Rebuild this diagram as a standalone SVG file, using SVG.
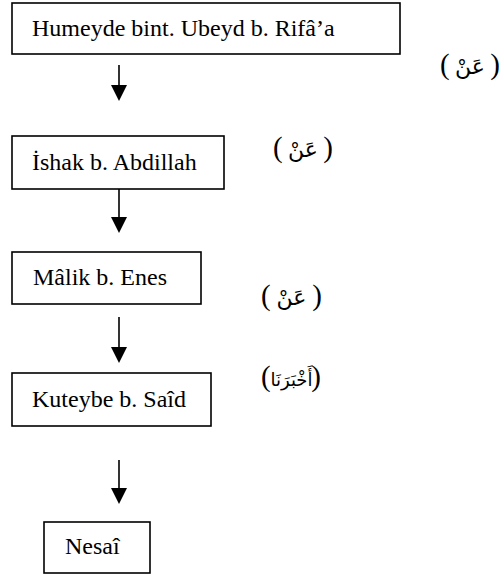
<svg xmlns="http://www.w3.org/2000/svg" width="504" height="576" viewBox="0 0 504 576">
<defs>
<style>
.box{fill:#fff;stroke:#000;stroke-width:1.6}
.t{font-family:"Liberation Serif","Times New Roman",serif;font-size:24px;fill:#000}
.p{font-family:"Liberation Serif","Times New Roman",serif;font-size:29px;fill:#000}
.ar{font-family:"DejaVu Sans","Noto Sans",sans-serif;font-size:22px;fill:#000;text-anchor:middle}
.ar2{font-size:18px}
.ln{stroke:#000;stroke-width:1.6;fill:none}
.hd{fill:#000}
</style>
</defs>
<rect width="504" height="576" fill="#fff"/>
<g id="n1"><rect class="box" x="12" y="3" width="388" height="51"/><text class="t" x="32" y="36">Humeyde bint. Ubeyd b. Rifâ’a</text></g>
<g id="n2"><rect class="box" x="12" y="136" width="212" height="53"/><text class="t" x="32" y="170">İshak b. Abdillah</text></g>
<g id="n3"><rect class="box" x="12" y="252" width="189" height="52"/><text class="t" x="33" y="285">Mâlik b. Enes</text></g>
<g id="n4"><rect class="box" x="12" y="373" width="199" height="53"/><text class="t" x="32" y="407">Kuteybe b. Saîd</text></g>
<g id="n5"><rect class="box" x="44" y="522" width="106" height="51"/><text class="t" x="65" y="554">Nesaî</text></g>
<g id="connectors">
<line class="ln" x1="119" y1="65" x2="119" y2="88"/><polygon class="hd" points="111,85 127,85 119,101"/>
<line class="ln" x1="119" y1="189" x2="119" y2="220"/><polygon class="hd" points="111,217 127,217 119,233"/>
<line class="ln" x1="119" y1="317" x2="119" y2="350"/><polygon class="hd" points="111,347 127,347 119,363"/>
<line class="ln" x1="119" y1="460" x2="119" y2="491"/><polygon class="hd" points="111,488 127,488 119,504"/>
</g>
<g id="labels">
<text class="p" x="440" y="74">(</text><text class="ar" x="470" y="74">عَنْ</text><text class="p" x="500" y="74" text-anchor="end">)</text>
<text class="p" x="273" y="157">(</text><text class="ar" x="303" y="157">عَنْ</text><text class="p" x="333" y="157" text-anchor="end">)</text>
<text class="p" x="261" y="305">(</text><text class="ar" x="291.5" y="305">عَنْ</text><text class="p" x="322" y="305" text-anchor="end">)</text>
<text class="p" x="261" y="386">(</text><text class="ar ar2" x="291.5" y="386" textLength="42" lengthAdjust="spacingAndGlyphs">أَخْبَرَنَا</text><text class="p" x="321" y="386" text-anchor="end">)</text>
</g>
</svg>
